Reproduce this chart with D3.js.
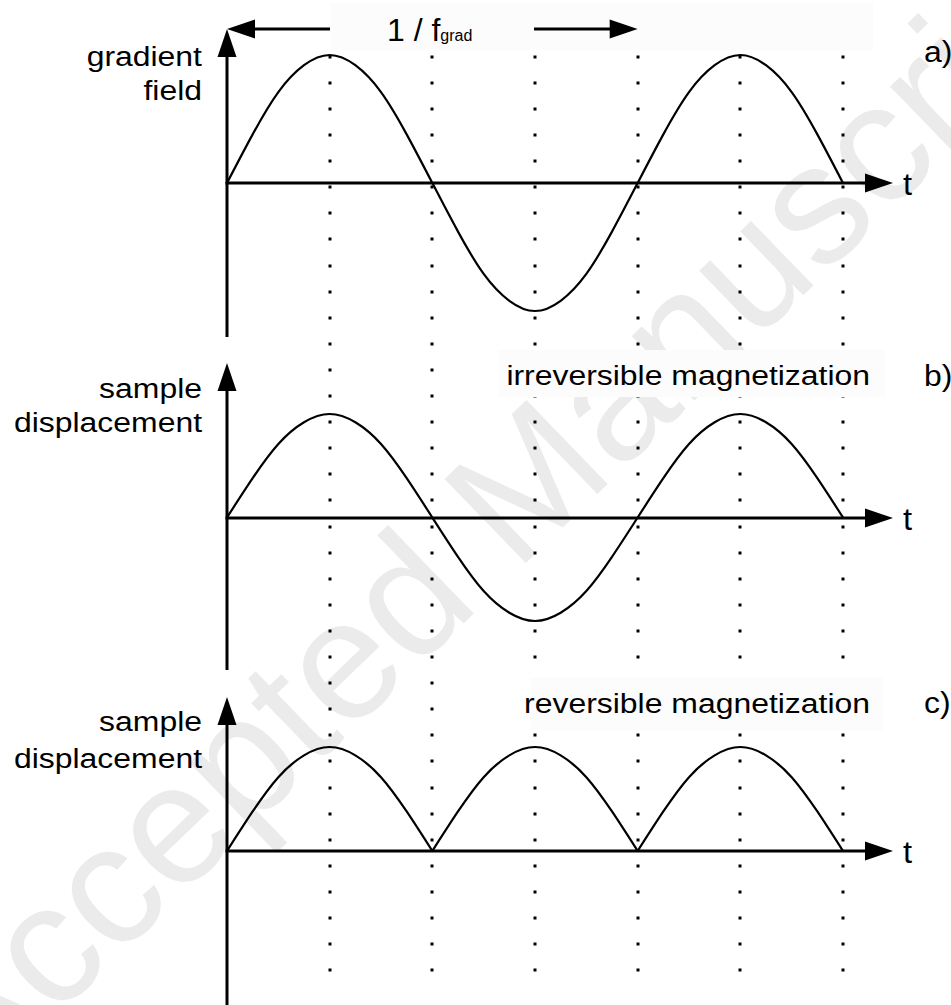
<!DOCTYPE html>
<html>
<head>
<meta charset="utf-8">
<script src="https://cdn.jsdelivr.net/npm/d3@7"></script>
<style>
body{margin:0;background:#fff}
svg{display:block;font-family:"Liberation Sans",Arial,Helvetica,sans-serif}
</style>
</head>
<body>
<svg id="chart" width="951" height="1005"></svg>
<script>
// phase in quarter periods of the gradient field (1/16 period steps)
var phase=[0,0.25,0.5,0.75,1,1.25,1.5,1.75,2,2.25,2.5,2.75,3,3.25,3.5,3.75,4,4.25,4.5,4.75,5,5.25,5.5,5.75,6]
var fieldValues=[0,0.38,0.71,0.92,1,0.92,0.71,0.38,0,-0.38,-0.71,-0.92,-1,-0.92,-0.71,-0.38,0,0.38,0.71,0.92,1,0.92,0.71,0.38,0]
var irreversibleValues=[0,0.38,0.71,0.92,1,0.92,0.71,0.38,0,-0.38,-0.71,-0.92,-1,-0.92,-0.71,-0.38,0,0.38,0.71,0.92,1,0.92,0.71,0.38,0]
var reversibleValues=[0,0.38,0.71,0.92,1,0.92,0.71,0.38,0,0.38,0.71,0.92,1,0.92,0.71,0.38,0,0.38,0.71,0.92,1,0.92,0.71,0.38,0]
var gridPhases=[1,2,3,4,5,6]
var periodLabel="1 / f"
var periodSub="grad"

var svg=d3.select("#chart")
var width=951,height=1005
var sx=1.14 // text in the figure is a bit wider than normal

var xScale=d3.scaleLinear()
.domain([0,6])
.range([227,843])

var panels=[
	{values:fieldValues,domain:[-1,1],range:[311,55],axisY:183,top:29,bottom:337,
		lines:["gradient","field"],lineY:[66,100],title:null,tag:"a)",tagY:62},
	{values:irreversibleValues,domain:[-1,1],range:[621,414],axisY:518,top:363,bottom:670,
		lines:["sample","displacement"],lineY:[398,432],title:"irreversible magnetization",titleY:385,tag:"b)",tagY:386,
		box:[498,350,387,47]},
	{values:reversibleValues,domain:[0,1],range:[851,747],axisY:851,top:697,bottom:1005,
		lines:["sample","displacement"],lineY:[731,768],title:"reversible magnetization",titleY:713,tag:"c)",tagY:713,
		box:[530,678,353,52]}
]

// watermark
svg.append("text")
.attr("transform","translate(-28,1098) rotate(-44)")
.attr("font-size",170)
.attr("fill","#ebebeb")
.text("Accepted Manuscript")

// dotted guide lines
var dotY=d3.range(56.7,985,26.1)
var dots=[]
gridPhases.forEach(p=>{
	dotY.forEach(y=>dots.push({p:p,y:y}))
})
svg.append("g")
.selectAll("rect")
.data(dots)
.enter()
.append("rect")
.attr("x",d=>Math.round(xScale(d.p))-1.5)
.attr("y",d=>Math.round(d.y)-1.5)
.attr("width",3)
.attr("height",3)
.attr("fill","#000")

// label boxes
svg.append("rect")
.attr("x",330).attr("y",3).attr("width",543).attr("height",47)
.attr("fill","#fcfcfc")
panels.forEach(pn=>{
	if(pn.box){
		svg.append("rect")
		.attr("x",pn.box[0]).attr("y",pn.box[1]).attr("width",pn.box[2]).attr("height",pn.box[3])
		.attr("fill","#fcfcfc")
	}
})

function label(x,y,txt,anchor,size,scale){
	return svg.append("text")
	.attr("transform",`translate(${x},${y}) scale(${scale||sx},1)`)
	.attr("text-anchor",anchor)
	.attr("font-size",size)
	.attr("fill","#000")
	.text(txt)
}

function arrowHead(tipX,tipY,dir){
	// dir: "up","right","left"
	var L=28,W=9.5,pts
	if(dir=="up") pts=[[tipX,tipY],[tipX-W,tipY+L],[tipX+W,tipY+L]]
	if(dir=="right") pts=[[tipX,tipY],[tipX-L,tipY-W],[tipX-L,tipY+W]]
	if(dir=="left") pts=[[tipX,tipY],[tipX+L,tipY-W],[tipX+L,tipY+W]]
	svg.append("path")
	.attr("d","M"+pts.join("L")+"Z")
	.attr("fill","#000")
}

panels.forEach(pn=>{
	var yScale=d3.scaleLinear().domain(pn.domain).range(pn.range)
	var x0=xScale(0)

	// y axis
	svg.append("line")
	.attr("x1",x0).attr("x2",x0)
	.attr("y1",pn.bottom).attr("y2",pn.top+20)
	.attr("stroke","#000").attr("stroke-width",3)
	arrowHead(x0,pn.top,"up")

	// time axis
	svg.append("line")
	.attr("x1",x0-1.5).attr("x2",866)
	.attr("y1",pn.axisY).attr("y2",pn.axisY)
	.attr("stroke","#000").attr("stroke-width",3)
	arrowHead(893,pn.axisY,"right")
	label(903,pn.axisY+12,"t","start",31,1.05)

	// curve, split at the cusps of the rectified signal
	var pts=phase.map((p,i)=>({p:p,v:pn.values[i]}))
	var segs=[]
	if(pn.domain[0]==0){
		var cur=[]
		pts.forEach((d,i)=>{
			cur.push(d)
			if(d.v==0&&i>0){segs.push(cur);cur=[d]}
		})
	}else{
		segs=[pts]
	}
	var line=d3.line()
	.x(d=>xScale(d.p))
	.y(d=>yScale(d.v))
	.curve(d3.curveNatural)
	svg.append("g")
	.selectAll("path")
	.data(segs)
	.enter()
	.append("path")
	.attr("d",line)
	.attr("fill","none")
	.attr("stroke","#000")
	.attr("stroke-width",2.2)

	// labels
	pn.lines.forEach((t,i)=>label(202,pn.lineY[i],t,"end",28))
	if(pn.title) label(870,pn.titleY,pn.title,"end",28)
	label(924,pn.tagY,pn.tag,"start",29,1.1)
})

// period arrow at the top
svg.append("line")
.attr("x1",250).attr("x2",330)
.attr("y1",29).attr("y2",29)
.attr("stroke","#000").attr("stroke-width",3)
arrowHead(xScale(0),29,"left")
svg.append("line")
.attr("x1",534).attr("x2",612)
.attr("y1",29).attr("y2",29)
.attr("stroke","#000").attr("stroke-width",3)
arrowHead(xScale(4),29,"right")

var pl=svg.append("text")
.attr("transform","translate(387,41)")
.attr("font-size",32)
.attr("fill","#000")
pl.append("tspan").text(periodLabel)
pl.append("tspan").attr("font-size",16).text(periodSub)
</script>
</body>
</html>
